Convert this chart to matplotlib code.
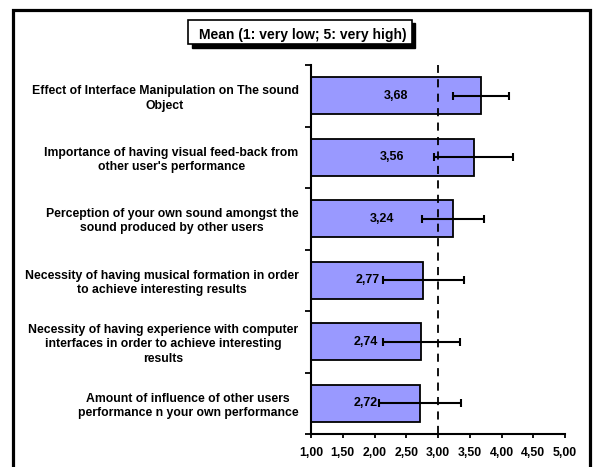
import numpy as np
from matplotlib import pyplot as plt
from matplotlib.patches import Rectangle

plt.rcParams['font.family'] = ['Liberation Sans', 'DejaVu Sans']
plt.rcParams['font.weight'] = 'bold'

# Survey items (top to bottom), means and error half-widths
questions = [
    "Effect of Interface Manipulation on The sound\nObject",
    "Importance of having visual feed-back from\nother user's performance",
    "Perception of your own sound amongst the\nsound produced by other users",
    "Necessity of having musical formation in order\nto achieve interesting results",
    "Necessity of having experience with computer\ninterfaces in order to achieve interesting\nresults",
    "Amount of influence of other users\nperformance n your own performance",
]
means = [3.68, 3.56, 3.24, 2.77, 2.74, 2.72]
errors = [0.44, 0.62, 0.49, 0.64, 0.61, 0.65]
x_ticks = [1.0, 1.5, 2.0, 2.5, 3.0, 3.5, 4.0, 4.5, 5.0]
x_labels = ["1,00", "1,50", "2,00", "2,50", "3,00", "3,50", "4,00", "4,50", "5,00"]
scale_min = 1.0
reference = 3.0

W, H = 598, 467
fig = plt.figure(figsize=(W / 100, H / 100), dpi=100)

# outer chart frame (bottom edge runs off the picture)
fig.patches.append(Rectangle((13 / W, -0.05), (590 - 13) / W, 1.05 - 10 / H,
                             transform=fig.transFigure, fill=False,
                             edgecolor='black', linewidth=2.3))

ax = fig.add_axes([311 / W, 1 - 434 / H, (565 - 311) / W, (434 - 65) / H])

y = np.arange(len(questions))
widths = [m - scale_min for m in means]
ax.barh(y, widths, left=scale_min, height=0.6, color='#9999FF',
        edgecolor='black', linewidth=1.3, zorder=2)
ax.errorbar(means, y, xerr=errors, fmt='none', ecolor='black',
            elinewidth=1.5, capsize=3, capthick=1.5, zorder=4)

for yi, m in zip(y, means):
    ax.text((scale_min + m) / 2, yi, f"{m:.2f}".replace('.', ','),
            ha='center', va='center', fontsize=9, fontweight='bold', zorder=5)

ax.axvline(reference, color='black', linestyle=(0, (4.5, 3.5)),
           linewidth=1.3, zorder=3)

ax.set_xlim(1, 5)
ax.set_ylim(len(questions) - 0.5, -0.5)
ax.set_xticks(x_ticks)
ax.set_xticklabels(x_labels, fontsize=8.8, fontweight='bold')

ax.set_yticks(np.arange(len(questions) + 1) - 0.5, minor=False)
ax.set_yticklabels([])
ax.set_yticks(y, minor=True)
ax.set_yticklabels(questions, minor=True, fontsize=8.8, fontweight='bold',
                   multialignment='center', linespacing=1.25)
ax.tick_params(axis='y', which='minor', length=0, pad=9)
ax.tick_params(axis='y', which='major', length=4, width=1.3, direction='out')
ax.tick_params(axis='x', length=3, width=1.3, direction='out', pad=6)

for side in ['top', 'right']:
    ax.spines[side].set_visible(False)
for side in ['left', 'bottom']:
    ax.spines[side].set_linewidth(1.5)

# title box with drop shadow
bx0, by0, bx1, by1 = 188, 20, 412, 44
fig.patches.append(Rectangle(((bx0 + 3.5) / W, 1 - (by1 + 3.5) / H), (bx1 - bx0) / W,
                             (by1 - by0) / H, transform=fig.transFigure,
                             facecolor='black', edgecolor='black'))
fig.patches.append(Rectangle((bx0 / W, 1 - by1 / H), (bx1 - bx0) / W,
                             (by1 - by0) / H, transform=fig.transFigure,
                             facecolor='white', edgecolor='black', linewidth=1.2))
fig.text((bx0 + bx1) / 2 / W + 2.5 / W, 1 - 35 / H, "Mean (1: very low; 5: very high)",
         ha='center', va='center', fontsize=10, fontweight='bold')

fig.savefig('out.png', dpi=100)
